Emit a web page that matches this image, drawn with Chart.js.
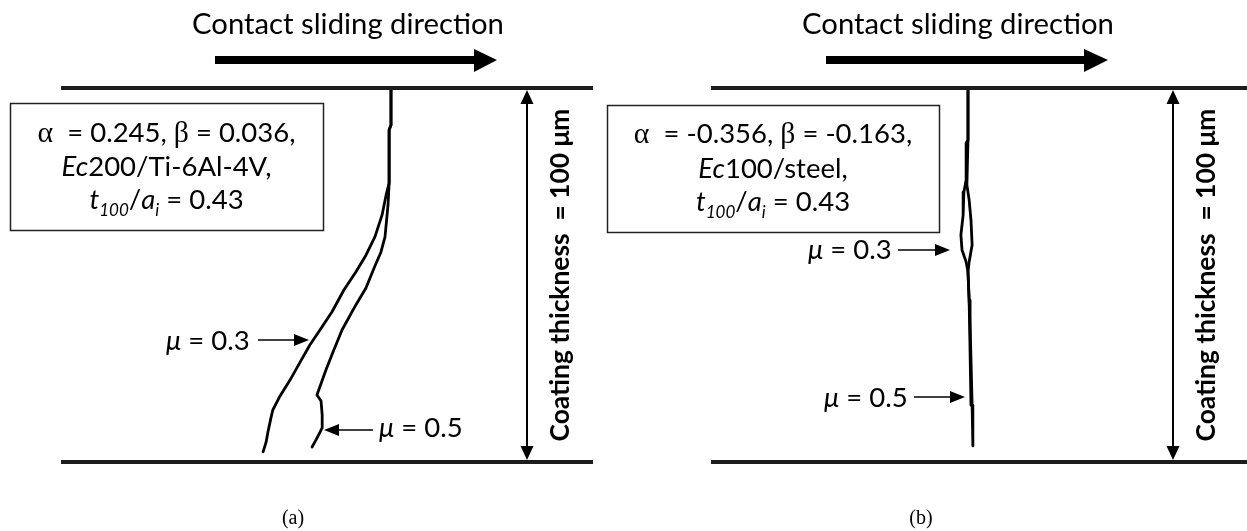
<!DOCTYPE html>
<html>
<head>
<meta charset="utf-8">
<script src="https://cdn.jsdelivr.net/npm/chart.js@4.4.1/dist/chart.umd.min.js"></script>
<style>
  html, body { margin: 0; padding: 0; background: #fff; }
  #wrap { position: relative; width: 1247px; height: 531px; overflow: hidden; }
  canvas { position: absolute; top: 0; }
  #panelA { left: 0; }
  #panelB { left: 600px; }
</style>
</head>
<body>
<div id="wrap">
  <canvas id="panelA" width="623" height="531"></canvas>
  <canvas id="panelB" width="647" height="531"></canvas>
</div>
<script>
// crack paths
// x = lateral offset from the crack mouth (µm), y = depth below the surface (µm)
const seriesLabels = ['μ = 0.3', 'μ = 0.5'];
const coatingThickness = 100;

const crackA03x = [0, 0, -0.5, -0.5, -1.3, -2.4, -4.3, -6.7, -9.4, -12.6, -15.8, -19.0, -21.7, -24.3, -27.0, -29.7, -31.6, -32.1, -32.9, -33.4, -34.2];
const crackA03y = [0, 9.9, 11.2, 25.4, 28.6, 34.0, 39.8, 44.7, 49.2, 54.0, 59.9, 64.7, 68.7, 73.3, 78.1, 82.4, 86.1, 88.2, 92.0, 94.7, 97.3];
const crackA05x = [0, 0, -0.5, -0.5, -0.8, -1.6, -2.7, -4.3, -6.7, -9.4, -13.1, -15.5, -17.4, -19.3, -19.8, -18.7, -18.4, -18.4, -19.8, -21.1];
const crackA05y = [0, 9.9, 11.2, 25.4, 31.3, 39.8, 43.9, 47.6, 53.5, 58.0, 64.7, 70.6, 75.4, 80.7, 82.1, 83.7, 87.4, 90.9, 93.6, 96.0];

const crackB03x = [0, 0, -0.5, -0.5, -1.1, -1.3, -1.9, -1.6, -0.5, 0, 0.3, 0.5, 0.8];
const crackB03y = [0, 13.9, 14.7, 24.6, 27.8, 34.0, 39.3, 43.3, 46.5, 49.2, 56.7, 67.4, 84.8];
const crackB05x = [0, 0, -0.3, 0.3, 0.8, 1.1, 0.3, 0, 0.3, 0.5, 0.8, 1.1, 1.3, 1.3];
const crackB05y = [0, 13.9, 25.9, 29.9, 35.3, 42.0, 46.5, 49.2, 56.7, 60.7, 72.7, 84.8, 86.1, 95.7];

// texts
const titleText = 'Contact sliding direction';
const thicknessText = 'Coating thickness  = 100 μm';
const boxTextA = [
  [['α', 'g'], ['  = 0.245, ', 'n'], ['β', 'g'], [' = 0.036,', 'n']],
  [['Ec', 'i'], ['200/Ti-6Al-4V,', 'n']],
  [['t', 'i'], ['100', 's'], ['/', 'n'], ['a', 'i'], ['i', 's'], [' = 0.43', 'n']]
];
const boxTextB = [
  [['α', 'g'], ['  = -0.356, ', 'n'], ['β', 'g'], [' = -0.163,', 'n']],
  [['Ec', 'i'], ['100/steel,', 'n']],
  [['t', 'i'], ['100', 's'], ['/', 'n'], ['a', 'i'], ['i', 's'], [' = 0.43', 'n']]
];

const PX_PER_UM = 3.74;
const SURFACE_PX = 88;
const CANVAS_H = 531;

function segFont(kind, size) {
  if (kind === 'i') return 'italic ' + size + 'px Lato';
  if (kind === 'g') return (size * 1.08) + 'px "Liberation Serif"';
  if (kind === 's') return 'italic ' + (size * 0.62) + 'px Lato';
  if (kind === 'b') return 'bold ' + size + 'px Lato';
  return size + 'px Lato';
}

function richWidth(ctx, segs, size) {
  let w = 0;
  segs.forEach(s => { ctx.font = segFont(s[1], size); w += ctx.measureText(s[0]).width; });
  return w;
}

function drawRich(ctx, segs, x, y, size, align) {
  let cx = align === 'center' ? x - richWidth(ctx, segs, size) / 2 : x;
  ctx.textAlign = 'left';
  ctx.textBaseline = 'alphabetic';
  segs.forEach(s => {
    ctx.font = segFont(s[1], size);
    ctx.fillText(s[0], cx, s[1] === 's' ? y + size * 0.25 : y);
    cx += ctx.measureText(s[0]).width;
  });
}

// font sizes fitted to the widths measured on the figure
const mctx = document.createElement('canvas').getContext('2d');
const boxSize = 100 * 258 / richWidth(mctx, boxTextA[0], 100);
const titleSize = 100 * 312 / richWidth(mctx, [[titleText, 'n']], 100);
const thickSize = 100 * 333 / richWidth(mctx, [[thicknessText, 'b']], 100);

function arrowHead(ctx, tipX, tipY, dirX, dirY, len, half) {
  const bx = tipX - dirX * len, by = tipY - dirY * len;
  ctx.beginPath();
  ctx.moveTo(tipX, tipY);
  ctx.lineTo(bx - dirY * half, by + dirX * half);
  ctx.lineTo(bx + dirY * half, by - dirX * half);
  ctx.closePath();
  ctx.fill();
}

function diagramPlugin(cfg) {
  return {
    id: 'diagram',
    afterDatasetsDraw(chart) {
      const ctx = chart.ctx;
      const xs = chart.scales.x, ys = chart.scales.y;
      ctx.save();
      ctx.fillStyle = '#000';
      ctx.strokeStyle = '#000';

      // title and sliding arrow
      ctx.font = segFont('n', titleSize);
      ctx.textAlign = 'center';
      ctx.textBaseline = 'alphabetic';
      ctx.fillText(titleText, cfg.titleX, 34);
      ctx.fillRect(cfg.slide[0], 56, cfg.slide[1] - cfg.slide[0], 8);
      ctx.beginPath();
      ctx.moveTo(cfg.slide[1], 49);
      ctx.lineTo(cfg.slide[2], 60);
      ctx.lineTo(cfg.slide[1], 72);
      ctx.closePath();
      ctx.fill();

      // parameter box
      const b = cfg.box;
      ctx.lineWidth = 1.5;
      ctx.strokeStyle = '#222';
      ctx.strokeRect(b[0] + 0.5, b[1] + 0.5, b[2] - b[0], b[3] - b[1]);
      cfg.boxText.forEach((line, i) => drawRich(ctx, line, (b[0] + b[2]) / 2, cfg.boxBase[i], boxSize, 'center'));

      // friction labels
      ctx.strokeStyle = '#000';
      ctx.lineWidth = 1.5;
      cfg.muLabels.forEach((m, i) => {
        drawRich(ctx, [['μ', 'i'], [seriesLabels[i].slice(1), 'n']], m.tx, m.base, boxSize, 'left');
        const dir = m.tip > m.tail ? 1 : -1;
        ctx.beginPath();
        ctx.moveTo(m.tail, m.ay);
        ctx.lineTo(m.tip - dir * 10, m.ay);
        ctx.stroke();
        arrowHead(ctx, m.tip, m.ay, dir, 0, 15, 6);
      });

      // coating thickness dimension
      const dx = xs.getPixelForValue(cfg.dimX);
      const y0 = ys.getPixelForValue(0) + 2;
      const y1 = ys.getPixelForValue(coatingThickness) - 2;
      ctx.lineWidth = 2;
      ctx.beginPath();
      ctx.moveTo(dx, y0 + 10);
      ctx.lineTo(dx, y1 - 10);
      ctx.stroke();
      arrowHead(ctx, dx, y0, 0, -1, 14, 6.5);
      arrowHead(ctx, dx, y1, 0, 1, 14, 6.5);

      ctx.save();
      ctx.translate(cfg.rotX, (y0 + y1) / 2);
      ctx.rotate(-Math.PI / 2);
      ctx.font = segFont('b', thickSize);
      ctx.textAlign = 'center';
      ctx.textBaseline = 'alphabetic';
      ctx.fillText(thicknessText, 0, 0);
      ctx.restore();

      // panel label
      ctx.font = '20px "Liberation Serif"';
      ctx.textAlign = 'center';
      ctx.fillText(cfg.panelLabel, cfg.panelX, 524);
      ctx.restore();
    }
  };
}

function toPoints(xs, ys) {
  return xs.map((x, i) => ({ x: x, y: ys[i] }));
}

function makePanel(cfg) {
  const canvas = document.getElementById(cfg.canvasId);
  const w = canvas.width;
  const um = px => (px - cfg.originPx) / PX_PER_UM;
  const surfaceFrom = um(cfg.surfacePx[0]);
  const surfaceTo = um(cfg.surfacePx[1]);

  const surfaceStyle = { showLine: true, pointRadius: 0, borderColor: '#1c1c1c', borderWidth: 4, tension: 0 };
  const crackStyle = { showLine: true, pointRadius: 0, borderColor: '#000', borderWidth: 2.8, tension: 0,
    borderJoinStyle: 'round', borderCapStyle: 'round' };

  const datasets = [
    Object.assign({ label: 'surface', data: [{ x: surfaceFrom, y: 0 }, { x: surfaceTo, y: 0 }] }, surfaceStyle),
    Object.assign({ label: 'interface', data: [{ x: surfaceFrom, y: coatingThickness }, { x: surfaceTo, y: coatingThickness }] }, surfaceStyle)
  ];
  cfg.cracks.forEach((c, i) => {
    datasets.push(Object.assign({ label: seriesLabels[i], data: toPoints(c[0], c[1]) }, crackStyle));
  });

  new Chart(canvas, {
    type: 'scatter',
    data: { datasets: datasets },
    options: {
      responsive: false,
      animation: false,
      events: [],
      layout: { padding: 0 },
      plugins: { legend: { display: false }, tooltip: { enabled: false } },
      scales: {
        x: { type: 'linear', display: false, min: um(0), max: um(w) },
        y: { type: 'linear', display: false, reverse: true,
             min: -SURFACE_PX / PX_PER_UM, max: (CANVAS_H - SURFACE_PX) / PX_PER_UM }
      }
    },
    plugins: [diagramPlugin(cfg)]
  });
}

makePanel({
  canvasId: 'panelA', originPx: 391, surfacePx: [61, 593],
  cracks: [[crackA03x, crackA03y], [crackA05x, crackA05y]],
  titleX: 348, slide: [215, 474, 497],
  box: [10, 103, 323, 230], boxText: boxTextA, boxBase: [142, 176, 209],
  muLabels: [
    { tx: 166, base: 350, tail: 258, tip: 309, ay: 340 },
    { tx: 379, base: 437, tail: 373, tip: 324, ay: 430 }
  ],
  dimX: (527 - 391) / PX_PER_UM, rotX: 569,
  panelLabel: '(a)', panelX: 293
});

makePanel({
  canvasId: 'panelB', originPx: 368, surfacePx: [111, 647],
  cracks: [[crackB03x, crackB03y], [crackB05x, crackB05y]],
  titleX: 358, slide: [226, 484, 508],
  box: [7, 105, 339, 232], boxText: boxTextB, boxBase: [143, 178, 211],
  muLabels: [
    { tx: 208, base: 259, tail: 298, tip: 350, ay: 250 },
    { tx: 224, base: 407, tail: 314, tip: 365, ay: 397 }
  ],
  dimX: (573 - 368) / PX_PER_UM, rotX: 615,
  panelLabel: '(b)', panelX: 321
});
</script>
</body>
</html>
